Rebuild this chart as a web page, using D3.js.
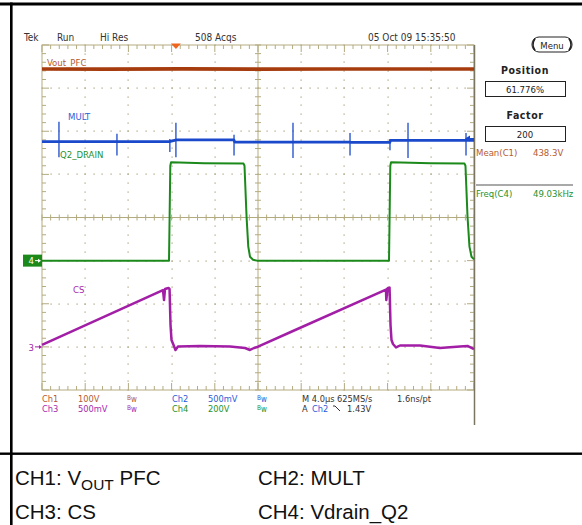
<!DOCTYPE html>
<html>
<head>
<meta charset="utf-8">
<script src="https://cdn.jsdelivr.net/npm/d3@7"></script>
<style>
  body { margin: 0; background: #fff; }
  svg { display: block; }
  .scope { font-family: "Liberation Sans Narrow", "Arial Narrow", "DejaVu Sans Condensed", sans-serif; }
  .caption { font-family: "Liberation Sans", Arial, Helvetica, sans-serif; }
</style>
</head>
<body>
<script>
// Horizontal: 4.0 µs/div over 10 divisions. Vertical: 8 divisions.
const timeDomain = [0, 40];
const divDomain = [-4, 4];

// Channel set-up
const channelNames = ["Ch1", "Ch2", "Ch3", "Ch4"];
const traceLabels = ["Vout_PFC", "MULT", "CS", "Q2_DRAIN"];
const voltsPerDiv = [100, 0.5, 0.5, 200];
const scaleLabels = ["100V", "500mV", "500mV", "200V"];
const offsetDiv = [-0.94, -1.1, -3, -1];
const traceColors = ["#a63c0e", "#1a4acb", "#a21ea6", "#1b8a1b"];
const textColors = ["#b65a2e", "#2c5cd8", "#a62aae", "#27922b"];

// Waveforms: [time µs, volts]
const ch1Vout = [[0, 438.4], [6, 438.0], [13, 438.6], [20, 438.1], [27, 438.5], [34, 438.2], [40, 438.4]];

// MULT: slowly varying level plus narrow switching spikes [time µs, high V, low V]
const ch2Mult = [
  [0, 1.43], [11.80, 1.43], [12.45, 1.45], [17.76, 1.45], [17.85, 1.425],
  [28.50, 1.425], [28.58, 1.42], [32.20, 1.42], [32.28, 1.445], [40, 1.445]
];
const ch2Spikes = [
  [1.57, 1.66, 1.25], [6.94, 1.52, 1.27], [11.84, 1.46, 1.31], [12.40, 1.65, 1.25],
  [17.78, 1.51, 1.27], [23.24, 1.65, 1.24], [28.52, 1.53, 1.27], [32.22, 1.46, 1.33],
  [33.89, 1.65, 1.24], [39.26, 1.53, 1.27]
];

const ch3Cs = [
  [0, 0.022], [11.20, 0.659], [11.30, 0.543], [11.39, 0.671], [11.71, 0.683], [11.81, 0.671],
  [11.90, 0.254], [11.99, 0.080], [12.18, 0.022], [12.36, -0.036], [12.59, 0.004],
  [14.63, 0.010], [17.41, 0.004], [18.80, -0.013], [19.26, -0.036], [19.63, -0.013],
  [20.00, 0.002], [23.24, 0.184], [31.85, 0.665], [31.88, 0.543], [31.99, 0.677], [32.18, 0.688],
  [32.27, 0.254], [32.36, 0.080], [32.50, 0.033], [32.78, -0.007], [33.15, 0.016],
  [35.00, 0.016], [36.85, -0.013], [38.70, 0.004], [39.44, 0.010], [40, -0.025]
];

const ch4Drain = [
  [0, 0], [11.76, 0], [11.88, 440], [11.95, 456], [15.0, 452], [18.66, 450],
  [18.75, 440], [18.94, 204], [19.10, 65], [19.26, 18], [19.54, 4], [19.91, 0],
  [32.13, 0], [32.25, 440], [32.32, 456], [36.0, 452], [39.12, 450],
  [39.21, 440], [39.40, 204], [39.58, 65], [39.77, 18], [40, 6]
];

const waveforms = [ch1Vout, ch2Mult, ch3Cs, ch4Drain];

// Status line, readouts and captions
const headerTexts = ["Tek", "Run", "Hi Res", "508 Acqs", "05 Oct 09 15:35:50"];
const timebaseText = "M 4.0\u00b5s 625MS/s";
const sampleText = "1.6ns/pt";
const triggerSource = "Ch2";
const triggerLevel = "1.43V";
const triggerTime = 12.4; // µs, position of the trigger marker
const positionValue = "61.776%";
const factorValue = "200";
const measureNames = ["Mean(C1)", "Freq(C4)"];
const measureValues = ["438.3V", "49.03kHz"];

// ---------------------------------------------------------------
const W = 582, H = 525;
const svg = d3.select("body").append("svg").attr("width", W).attr("height", H);
svg.append("rect").attr("width", W).attr("height", H).attr("fill", "#fff");

const x = d3.scaleLinear().domain(timeDomain).range([42, 474]);
const y = d3.scaleLinear().domain(divDomain).range([390, 45]);
const vy = (i, v) => y(v / voltsPerDiv[i] + offsetDiv[i]);

// page frame
svg.append("rect").attr("x", 0).attr("y", 2.5).attr("width", W).attr("height", 3).attr("fill", "#000");
svg.append("rect").attr("x", 10).attr("y", 2.5).attr("width", 2.6).attr("height", H).attr("fill", "#000");
svg.append("rect").attr("x", 0).attr("y", 452.5).attr("width", W).attr("height", 2.4).attr("fill", "#000");

// ---------------- graticule ----------------
const grid = svg.append("g").attr("class", "graticule");
const gridColor = "#b3ab80";
const majorT = d3.range(timeDomain[0], timeDomain[1] + 0.001, 4);
const minorT = d3.range(timeDomain[0], timeDomain[1] + 0.001, 0.8);
const majorD = d3.range(divDomain[0], divDomain[1] + 0.001, 1);
const minorD = d3.range(divDomain[0], divDomain[1] + 0.001, 0.2);

// dotted division lines
const innerT = majorT.filter(t => t > 0 && t < 40 && t !== 20);
const innerD = majorD.filter(d => d > -4 && d < 4 && d !== 0);
const dots = [];
innerT.forEach(t => minorD.forEach(d => dots.push([t, d])));
innerD.forEach(d => minorT.forEach(t => dots.push([t, d])));
grid.selectAll("rect.dot").data(dots).join("rect")
  .attr("class", "dot")
  .attr("x", d => Math.round(x(d[0])) - 0.5).attr("y", d => Math.round(y(d[1])) - 0.5)
  .attr("width", 1.2).attr("height", 1.2).attr("fill", "#a9a17a");

// outer border
grid.append("rect").attr("x", x(0)).attr("y", y(4))
  .attr("width", x(40) - x(0)).attr("height", y(-4) - y(4))
  .attr("fill", "none").attr("stroke", gridColor).attr("stroke-width", 1);

// centre cross-hair
grid.append("line").attr("x1", x(0)).attr("x2", x(40)).attr("y1", y(0)).attr("y2", y(0))
  .attr("stroke", gridColor).attr("stroke-width", 1);
grid.append("line").attr("x1", x(20)).attr("x2", x(20)).attr("y1", y(4)).attr("y2", y(-4))
  .attr("stroke", gridColor).attr("stroke-width", 1);

const isMajorT = t => Math.abs(t / 4 - Math.round(t / 4)) < 1e-6;
const isMajorD = d => Math.abs(d - Math.round(d)) < 1e-6;
const ticks = [];
minorT.forEach(t => {
  ticks.push([x(t), y(0) - 3, x(t), y(0) + 3]);
  const L = isMajorT(t) ? 7 : 4;
  ticks.push([x(t), y(4), x(t), y(4) + L]);
  ticks.push([x(t), y(-4), x(t), y(-4) - L]);
});
minorD.forEach(d => {
  ticks.push([x(20) - 3, y(d), x(20) + 3, y(d)]);
  const L = isMajorD(d) ? 7 : 4;
  ticks.push([x(0), y(d), x(0) + L, y(d)]);
  ticks.push([x(40), y(d), x(40) - L, y(d)]);
});
grid.selectAll("line.tick").data(ticks).join("line")
  .attr("class", "tick")
  .attr("x1", d => d[0]).attr("y1", d => d[1]).attr("x2", d => d[2]).attr("y2", d => d[3])
  .attr("stroke", gridColor).attr("stroke-width", 1);

// right-hand panel separator
svg.append("line").attr("x1", 474.5).attr("x2", 474.5).attr("y1", 45).attr("y2", 425)
  .attr("stroke", "#7a7560").attr("stroke-width", 1.5);

// ---------------- traces ----------------
const traceWidths = [3.6, 2.8, 2.5, 2.0];
const traceOrder = [0, 1, 3, 2];
const tracesG = svg.append("g").attr("class", "traces");
traceOrder.forEach(i => {
  const line = d3.line().x(d => x(d[0])).y(d => vy(i, d[1]));
  tracesG.append("path").datum(waveforms[i])
    .attr("d", line)
    .attr("fill", "none")
    .attr("stroke", traceColors[i])
    .attr("stroke-width", traceWidths[i])
    .attr("stroke-linejoin", "round");
  if (i === 1) {
    tracesG.selectAll("line.spike").data(ch2Spikes).join("line")
      .attr("class", "spike")
      .attr("x1", d => x(d[0])).attr("x2", d => x(d[0]))
      .attr("y1", d => vy(1, d[1])).attr("y2", d => vy(1, d[2]))
      .attr("stroke", traceColors[1]).attr("stroke-width", 1.3);
  }
});

// trace labels
const labelPos = [[47, 66], [68, 119.5], [73, 292.5], [60, 158]];
svg.append("g").attr("class", "scope").selectAll("text").data(traceLabels).join("text")
  .attr("x", (d, i) => labelPos[i][0]).attr("y", (d, i) => labelPos[i][1])
  .attr("font-size", 9.5).attr("fill", (d, i) => textColors[i]).text(d => d);

// ground reference markers
const g4 = y(offsetDiv[3]);
svg.append("rect").attr("x", 23).attr("y", g4 - 6).attr("width", 19).attr("height", 12).attr("fill", traceColors[3]);
svg.append("text").attr("class", "scope").attr("x", 28.5).attr("y", g4 + 3.5)
  .attr("font-size", 9.5).attr("fill", "#fff").text("4");
svg.append("path").attr("d", `M35,${g4}H39`).attr("stroke", "#fff").attr("stroke-width", 1);
svg.append("path").attr("d", `M38,${g4 - 2}L41,${g4}L38,${g4 + 2}Z`).attr("fill", "#fff");

const g3 = y(offsetDiv[2]);
svg.append("text").attr("class", "scope").attr("x", 28.5).attr("y", g3 + 4)
  .attr("font-size", 9.5).attr("fill", traceColors[2]).text("3");
svg.append("path").attr("d", `M35,${g3}H40`).attr("stroke", traceColors[2]).attr("stroke-width", 1);
svg.append("path").attr("d", `M39,${g3 - 2}L42,${g3}L39,${g3 + 2}Z`).attr("fill", traceColors[2]);

// trigger level marker (right edge, Ch2)
const tl = vy(1, parseFloat(triggerLevel)) - 3;
svg.append("path").attr("d", `M465,${tl}L470,${tl - 3}L470,${tl + 3}Z`).attr("fill", traceColors[1]);
svg.append("path").attr("d", `M469,${tl}H474`).attr("stroke", traceColors[1]).attr("stroke-width", 1.2);

// trigger position marker (top)
const tp = x(triggerTime);
svg.append("path").attr("d", `M${tp - 5},43.5H${tp + 5}L${tp},49Z`).attr("fill", "#f0641e");

// ---------------- status line ----------------
const headerX = [24, 57, 100, 195, 368];
svg.append("g").attr("class", "scope").selectAll("text").data(headerTexts).join("text")
  .attr("x", (d, i) => headerX[i]).attr("y", 41)
  .attr("font-size", 10).attr("fill", "#333").text(d => d);

// ---------------- channel settings block ----------------
const info = svg.append("g").attr("class", "scope").attr("font-size", 9.2);
const rowY = [402, 412];
const order = [0, 2, 1, 3]; // Ch1/Ch3 left column, Ch2/Ch4 right column
order.forEach((ch, k) => {
  const col = k < 2 ? 0 : 1;
  const row = k % 2;
  const bx = col === 0 ? 42 : 172;
  const by = rowY[row];
  info.append("text").attr("x", bx).attr("y", by).attr("fill", textColors[ch]).text(channelNames[ch]);
  info.append("text").attr("x", bx + 36).attr("y", by).attr("fill", textColors[ch]).text(scaleLabels[ch]);
  const bw = info.append("text").attr("x", bx + 85).attr("y", by).attr("fill", textColors[ch]);
  bw.append("tspan").attr("font-size", 6.5).attr("dy", -2).text("B");
  bw.append("tspan").attr("font-size", 8).attr("dy", 2).text("w");
});
info.append("text").attr("x", 302).attr("y", rowY[0]).attr("fill", "#333").text(timebaseText);
info.append("text").attr("x", 397).attr("y", rowY[0]).attr("fill", "#333").text(sampleText);
info.append("text").attr("x", 302).attr("y", rowY[1]).attr("fill", "#333").text("A");
info.append("text").attr("x", 312).attr("y", rowY[1]).attr("fill", textColors[1]).text(triggerSource);
info.append("path").attr("d", `M333,${rowY[1] - 6}H335L340,${rowY[1] - 1}`)
  .attr("fill", "none").attr("stroke", "#333").attr("stroke-width", 1);
info.append("text").attr("x", 347).attr("y", rowY[1]).attr("fill", "#333").text(triggerLevel);

// ---------------- side menu ----------------
const menu = svg.append("g").attr("class", "scope");
menu.append("rect").attr("x", 532).attr("y", 37).attr("width", 40).attr("height", 15).attr("rx", 7)
  .attr("fill", "#fff").attr("stroke", "#222").attr("stroke-width", 1);
menu.append("path").attr("d", "M535,38.5Q531,44.5 535,50.5M569,38.5Q573,44.5 569,50.5")
  .attr("fill", "none").attr("stroke", "#222").attr("stroke-width", 1.6);
menu.append("text").attr("x", 552).attr("y", 48.5).attr("text-anchor", "middle")
  .attr("font-size", 9.5).attr("fill", "#222").text("Menu");

const menuTitles = ["Position", "Factor"];
const menuValues = [positionValue, factorValue];
const titleY = [74, 119];
menuTitles.forEach((t, i) => {
  menu.append("text").attr("x", 525).attr("y", titleY[i]).attr("text-anchor", "middle")
    .attr("font-size", 10.5).attr("font-weight", "bold").attr("letter-spacing", 0.6)
    .attr("fill", "#222").text(t);
  menu.append("rect").attr("x", 485.5).attr("y", titleY[i] + 7.5).attr("width", 80).attr("height", 15)
    .attr("fill", "#fff").attr("stroke", "#222").attr("stroke-width", 1);
  menu.append("text").attr("x", 525).attr("y", titleY[i] + 18.5).attr("text-anchor", "middle")
    .attr("font-size", 9.5).attr("fill", "#222").text(menuValues[i]);
});

const measY = [156, 196.5];
const measColor = [textColors[0], textColors[3]];
measureNames.forEach((m, i) => {
  menu.append("text").attr("x", 476).attr("y", measY[i]).attr("font-size", 9.5).attr("fill", measColor[i]).text(m);
  menu.append("text").attr("x", 533).attr("y", measY[i]).attr("font-size", 9.5).attr("fill", measColor[i]).text(measureValues[i]);
});
menu.append("line").attr("x1", 476).attr("x2", 573).attr("y1", 185).attr("y2", 185)
  .attr("stroke", "#555").attr("stroke-width", 1.2);

// ---------------- caption ----------------
const captionNames = ["CH1", "CH2", "CH3", "CH4"];
const captionSignals = ["PFC", "MULT", "CS", "Vdrain_Q2"];
const cap = svg.append("g").attr("class", "caption").attr("font-size", 20.5).attr("fill", "#111");
const c1 = cap.append("text").attr("x", 15).attr("y", 484.5);
c1.append("tspan").text(captionNames[0] + ": V");
c1.append("tspan").attr("font-size", 15.5).attr("dy", 5).text("OUT");
c1.append("tspan").attr("dy", -5).text(" " + captionSignals[0]);
cap.append("text").attr("x", 258).attr("y", 484.5).text(captionNames[1] + ": " + captionSignals[1]);
cap.append("text").attr("x", 15).attr("y", 518.5).text(captionNames[2] + ": " + captionSignals[2]);
cap.append("text").attr("x", 258).attr("y", 518.5).text(captionNames[3] + ": " + captionSignals[3]);
</script>
</body>
</html>
